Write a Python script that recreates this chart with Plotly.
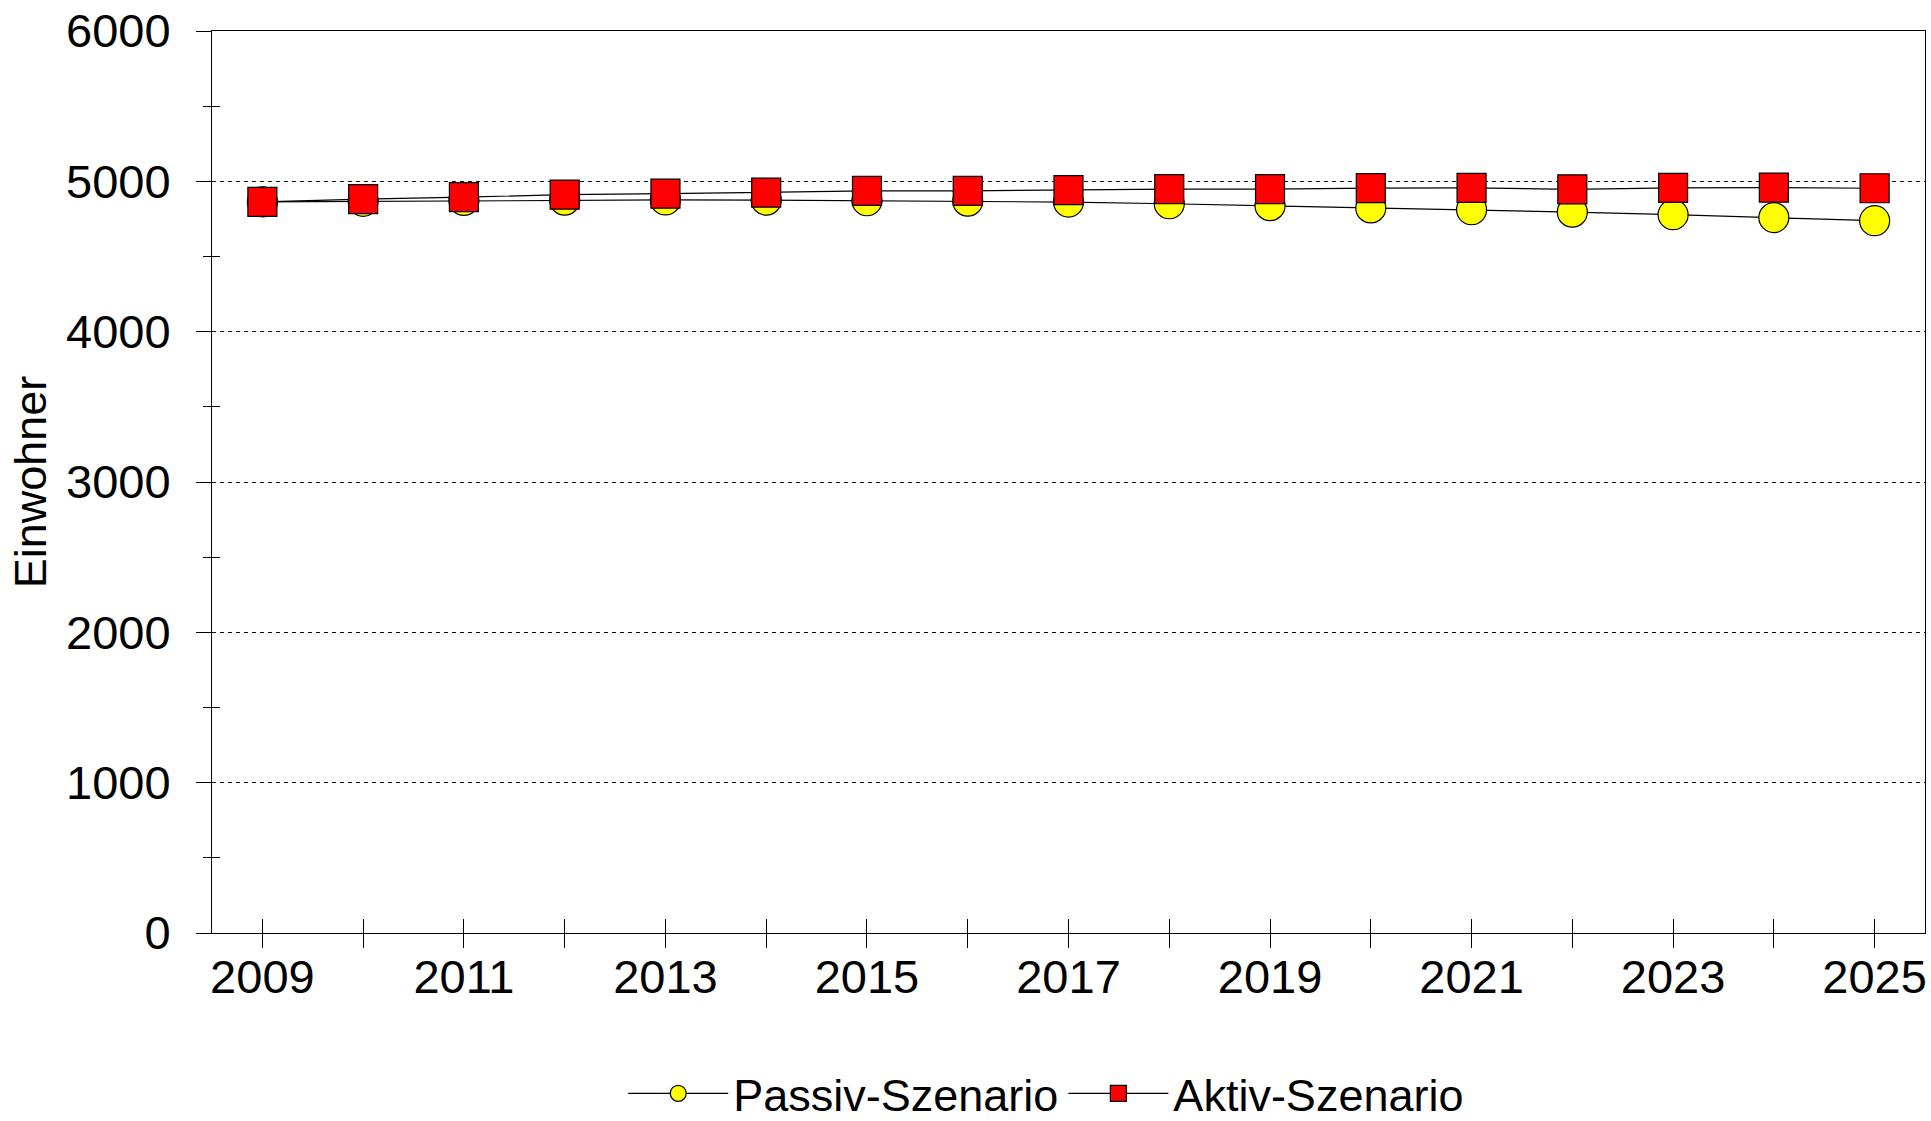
import plotly.graph_objects as go

years = list(range(2009, 2026))
passiv = [4863, 4867, 4873, 4875, 4876, 4875, 4871, 4868, 4862, 4851, 4838, 4823, 4811, 4795, 4778, 4759, 4738]
aktiv = [4863, 4882, 4895, 4911, 4918, 4925, 4936, 4937, 4942, 4948, 4948, 4955, 4956, 4947, 4956, 4958, 4954]
x_ticklabels = [str(y) if (y - 2009) % 2 == 0 else "" for y in years]
y_ticks = [0, 1000, 2000, 3000, 4000, 5000, 6000]
y_minor = [500, 1500, 2500, 3500, 4500, 5500]

FONT = "Liberation Sans, Arial, sans-serif"

fig = go.Figure()
fig.add_trace(go.Scatter(
    x=years, y=passiv, name="Passiv-Szenario", mode="lines+markers",
    line=dict(color="black", width=1.2),
    marker=dict(symbol="circle", size=30, color="#FFFF00", line=dict(color="black", width=1.2)),
))
fig.add_trace(go.Scatter(
    x=years, y=aktiv, name="Aktiv-Szenario", mode="lines+markers",
    line=dict(color="black", width=1.2),
    marker=dict(symbol="square", size=29, color="#FF0000", line=dict(color="black", width=1.2)),
))
# empty traces only to activate the overlay axes that draw the crossing tick halves
fig.add_trace(go.Scatter(x=[], y=[], xaxis="x2", yaxis="y", showlegend=False, hoverinfo="skip"))
fig.add_trace(go.Scatter(x=[], y=[], xaxis="x", yaxis="y2", showlegend=False, hoverinfo="skip"))

fig.update_layout(
    width=1931, height=1121,
    margin=dict(l=212, r=6, t=31, b=188, autoexpand=False),
    paper_bgcolor="white", plot_bgcolor="white",
    font=dict(family=FONT, size=46, color="black"),
    showlegend=True,
    legend=dict(orientation="h", x=0.487, xanchor="center", y=-0.178, yanchor="middle",
                font=dict(size=45, family=FONT), itemwidth=100, tracegroupgap=0,
                bgcolor="rgba(0,0,0,0)"),
    xaxis=dict(
        range=[2008.5, 2025.5], tickvals=years, ticktext=x_ticklabels,
        ticks="inside", ticklen=14, tickwidth=1, tickcolor="black",
        showline=True, linecolor="black", linewidth=1, mirror=True,
        showgrid=False, zeroline=False, ticklabelstandoff=3, automargin=False,
        tickfont=dict(size=47, family=FONT),
    ),
    xaxis2=dict(
        range=[2008.5, 2025.5], tickvals=years, ticks="outside", ticklen=14,
        tickwidth=1, tickcolor="black", showticklabels=False, overlaying="x",
        anchor="y", side="bottom", showgrid=False, zeroline=False, showline=False,
        automargin=False,
    ),
    yaxis=dict(
        range=[0, 6000], tickvals=y_ticks,
        ticks="outside", ticklen=15, tickwidth=1, tickcolor="black",
        showline=True, linecolor="black", linewidth=1, mirror=True,
        showgrid=True, gridcolor="#111111", gridwidth=1, griddash="4px,4px",
        zeroline=False, ticklabelstandoff=16, automargin=False,
        tickfont=dict(size=47, family=FONT),
        title=dict(text="Einwohner", font=dict(size=45, family=FONT), standoff=5),
        minor=dict(tickvals=y_minor, ticks="outside", ticklen=8, tickwidth=1,
                   tickcolor="black", showgrid=False),
    ),
    yaxis2=dict(
        range=[0, 6000], tickvals=y_minor, ticks="inside", ticklen=8, tickwidth=1,
        tickcolor="black", showticklabels=False, overlaying="y", anchor="x",
        side="left", showgrid=False, zeroline=False, showline=False, automargin=False,
    ),
)

fig.write_html(
    "out.html",
    config={"displayModeBar": False},
    post_script="document.body.style.margin='0';document.body.style.overflow='hidden';",
)
